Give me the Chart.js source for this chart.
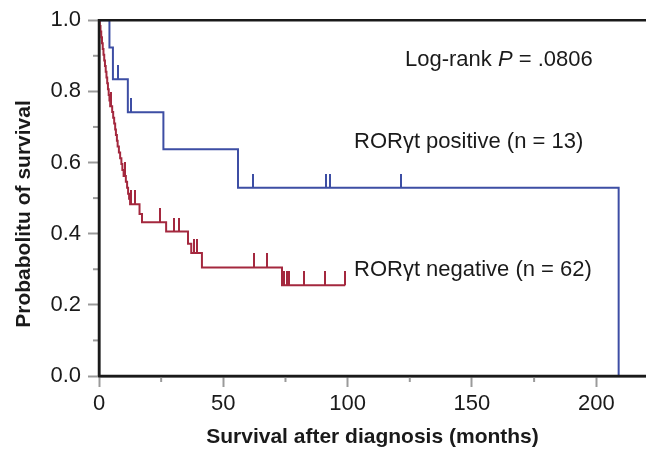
<!DOCTYPE html>
<html>
<head>
<meta charset="utf-8">
<script src="https://cdn.jsdelivr.net/npm/chart.js@4.4.1/dist/chart.umd.min.js"></script>
<style>
  html, body { margin: 0; padding: 0; background: #fff; }
</style>
</head>
<body>
<canvas id="km" width="646" height="453"></canvas>
<script>
// RORγt positive (n = 13): step times (months) and survival after each step
const posTimes = [0, 4.2, 5.6, 11.6, 25.9, 55.9, 209];
const posSurv = [1.0, 0.923, 0.834, 0.741, 0.637, 0.529, 0.0];
const posCensor = [7.8, 12.8, 61.9, 91.4, 93.0, 121.6];

// RORγt negative (n = 62)
const negTimes = [0, 0.3, 0.6, 0.9, 1.2, 1.5, 1.8, 2.1, 2.4, 2.7, 3.0, 3.3, 3.6, 3.9, 4.2, 4.5,
  5.3, 5.7, 6.1, 6.5, 6.8, 7.2, 7.5, 8.0, 8.5, 9.0, 9.4, 9.9, 10.8, 11.3, 11.7, 12.1, 12.5,
  16.3, 17.3, 27.0, 35.8, 37.1, 41.4, 73.6, 99];
const negSurv = [1.0, 0.984, 0.968, 0.952, 0.935, 0.919, 0.903, 0.887, 0.871, 0.855, 0.839, 0.823, 0.806, 0.790, 0.774, 0.758,
  0.742, 0.726, 0.710, 0.693, 0.677, 0.661, 0.645, 0.628, 0.612, 0.596, 0.579, 0.562, 0.546, 0.529, 0.512, 0.498, 0.483,
  0.455, 0.432, 0.406, 0.372, 0.346, 0.305, 0.255, 0.255];
const negCensor = [5.0, 10.4, 12.8, 14.3, 24.6, 30.0, 32.0, 38.3, 39.6, 62.2, 67.5,
  74.5, 75.6, 76.6, 82.5, 91.0, 99.0];

const xTicks = [0, 50, 100, 150, 200];
const xMinorTicks = [25, 75, 125, 175];
const yTicks = [0, 0.2, 0.4, 0.6, 0.8, 1.0];
const yMinorTicks = [0.1, 0.3, 0.5, 0.7, 0.9];

const BLUE = "#3d4ea4";
const RED = "#a4283e";
const FONT = "'Liberation Sans', Arial, sans-serif";

function survAt(times, surv, t) {
  let s = surv[0];
  for (let i = 0; i < times.length; i++) {
    if (times[i] <= t) s = surv[i];
  }
  return s;
}

// censor mark: vertical tick above the point
function censorMark(color) {
  const c = document.createElement("canvas");
  c.width = 2;
  c.height = 28;
  const g = c.getContext("2d");
  g.fillStyle = color;
  g.fillRect(0, 0, 2, 14);
  return c;
}

const frame = {
  id: "frame",
  afterDatasetsDraw(chart) {
    const { ctx, chartArea: a, scales } = chart;
    ctx.save();
    // minor ticks
    ctx.strokeStyle = "#9a9a9a";
    ctx.lineWidth = 2;
    yMinorTicks.forEach((v) => {
      const y = scales.y.getPixelForValue(v);
      ctx.beginPath();
      ctx.moveTo(a.left - 6, y);
      ctx.lineTo(a.left, y);
      ctx.stroke();
    });
    xMinorTicks.forEach((v) => {
      const x = scales.x.getPixelForValue(v);
      ctx.beginPath();
      ctx.moveTo(x, a.bottom);
      ctx.lineTo(x, a.bottom + 6);
      ctx.stroke();
    });
    // box lines over the curves
    ctx.strokeStyle = "#1a1a1a";
    ctx.lineWidth = 2.5;
    ctx.beginPath();
    ctx.moveTo(a.left, a.bottom);
    ctx.lineTo(a.left, a.top);
    ctx.lineTo(a.right, a.top);
    ctx.moveTo(a.left, a.bottom);
    ctx.lineTo(a.right, a.bottom);
    ctx.stroke();

    // y axis title
    ctx.fillStyle = "#1a1a1a";
    ctx.font = "bold 21px " + FONT;
    ctx.textAlign = "center";
    ctx.textBaseline = "middle";
    ctx.translate(24, 214);
    ctx.rotate(-Math.PI / 2);
    ctx.fillText("Probabolitu of survival", 0, 0);
    ctx.restore();

    // annotations
    ctx.save();
    ctx.fillStyle = "#1a1a1a";
    ctx.textBaseline = "middle";
    ctx.textAlign = "left";
    let x = 405;
    ctx.font = "22px " + FONT;
    ctx.fillText("Log-rank ", x, 60);
    x += ctx.measureText("Log-rank ").width;
    ctx.font = "italic 22px " + FONT;
    ctx.fillText("P", x, 60);
    x += ctx.measureText("P").width;
    ctx.font = "22px " + FONT;
    ctx.fillText(" = .0806", x, 60);
    ctx.fillText("RORγt positive (n = 13)", 354, 142);
    ctx.fillText("RORγt negative (n = 62)", 354, 270);
    ctx.restore();
  },
};

new Chart(document.getElementById("km"), {
  type: "scatter",
  plugins: [frame],
  data: {
    datasets: [
      {
        label: "RORγt negative",
        data: negTimes.map((t, i) => ({ x: t, y: negSurv[i] })),
        showLine: true,
        stepped: "before",
        borderColor: RED,
        borderWidth: 2,
        pointRadius: 0,
      },
      {
        label: "RORγt positive",
        data: posTimes.map((t, i) => ({ x: t, y: posSurv[i] })),
        showLine: true,
        stepped: "before",
        borderColor: BLUE,
        borderWidth: 2,
        pointRadius: 0,
      },
      {
        label: "negative censored",
        data: negCensor.map((t) => ({ x: t, y: survAt(negTimes, negSurv, t) })),
        pointStyle: censorMark(RED),
        pointRadius: 7,
      },
      {
        label: "positive censored",
        data: posCensor.map((t) => ({ x: t, y: survAt(posTimes, posSurv, t) })),
        pointStyle: censorMark(BLUE),
        pointRadius: 7,
      },
    ],
  },
  options: {
    responsive: false,
    animation: false,
    layout: { autoPadding: false, padding: { top: 15, right: 0, left: 0, bottom: 0 } },
    plugins: {
      legend: { display: false },
      tooltip: { enabled: false },
    },
    scales: {
      x: {
        type: "linear",
        min: 0,
        max: 220,
        afterBuildTicks: (scale) => {
          scale.ticks = xTicks.map((v) => ({ value: v }));
        },
        afterFit: (scale) => {
          scale.height = 77;
        },
        grid: { display: true, drawOnChartArea: false, drawTicks: true, tickLength: 11, tickColor: "#9a9a9a", tickWidth: 2 },
        border: { display: true, color: "#1a1a1a", width: 2.5 },
        ticks: { color: "#1a1a1a", font: { family: FONT, size: 22 }, padding: 4, maxRotation: 0 },
        title: {
          display: true,
          text: "Survival after diagnosis (months)",
          color: "#1a1a1a",
          font: { family: FONT, size: 21, weight: "bold" },
          padding: { top: 0, bottom: 3 },
        },
      },
      y: {
        type: "linear",
        min: 0,
        max: 1,
        afterBuildTicks: (scale) => {
          scale.ticks = yTicks.map((v) => ({ value: v }));
        },
        afterFit: (scale) => {
          scale.width = 99;
        },
        grid: { display: true, drawOnChartArea: false, drawTicks: true, tickLength: 11, tickColor: "#9a9a9a", tickWidth: 2 },
        border: { display: true, color: "#1a1a1a", width: 2.5 },
        ticks: {
          color: "#1a1a1a",
          font: { family: FONT, size: 22 },
          padding: 7,
          callback: (v) => v.toFixed(1),
        },
      },
    },
  },
});
</script>
</body>
</html>
